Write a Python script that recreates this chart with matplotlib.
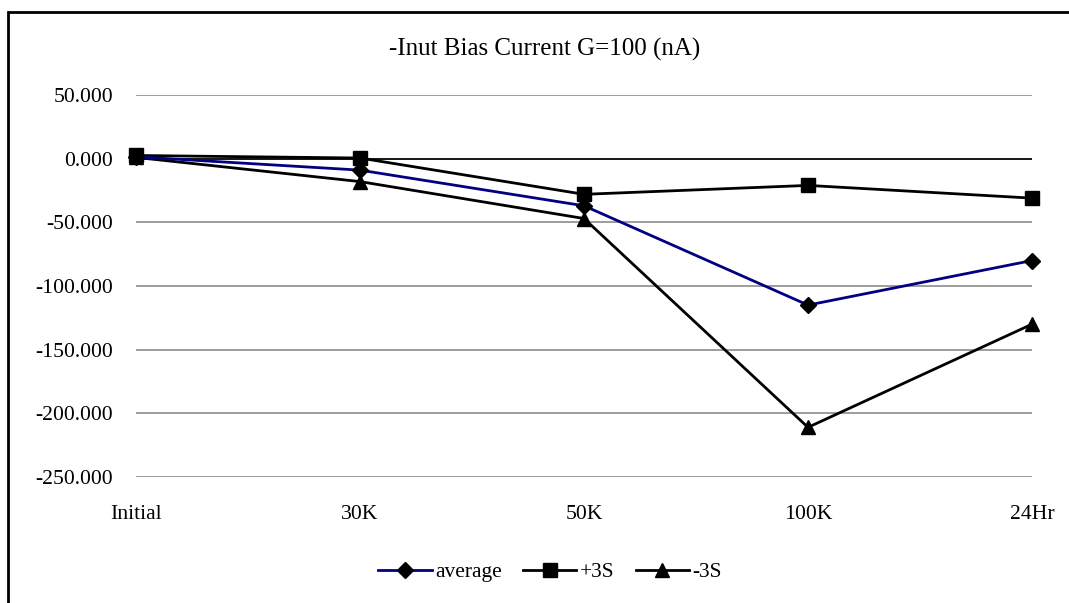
import matplotlib.pyplot as plt
from matplotlib.patches import Rectangle

plt.rcParams['font.family'] = ['Liberation Serif', 'DejaVu Serif']

categories = ['Initial', '30K', '50K', '100K', '24Hr']
average = [1.5, -9.0, -37.0, -115.0, -80.0]
plus_3s = [2.5, 0.5, -28.0, -21.0, -31.0]
minus_3s = [1.0, -18.0, -47.0, -211.0, -130.0]
y_ticks = [50, 0, -50, -100, -150, -200, -250]

fig = plt.figure(figsize=(10.69, 6.03), dpi=100)
ax = fig.add_axes([136 / 1069, 1 - 477 / 603, (1032 - 136) / 1069, (477 - 95) / 603])

x = range(len(categories))
ax.plot(x, average, color='#000080', lw=2, marker='D', ms=8,
        mfc='black', mec='black', label='average', clip_on=False, zorder=4)
ax.plot(x, plus_3s, color='black', lw=2, marker='s', ms=10,
        label='+3S', clip_on=False, zorder=3)
ax.plot(x, minus_3s, color='black', lw=2, marker='^', ms=10,
        label='-3S', clip_on=False, zorder=3)

ax.set_xlim(0, len(categories) - 1)
ax.set_ylim(-250, 50)
ax.set_yticks(y_ticks)
ax.set_yticklabels([f'{v:.3f}' for v in y_ticks])
ax.set_xticks(list(x))
ax.set_xticklabels(categories)
ax.tick_params(length=0, labelsize=15.6)
ax.tick_params(axis='y', pad=16.5)
ax.tick_params(axis='x', pad=20)
ax.grid(axis='y', color='#8c8c8c', lw=1.2)
ax.axhline(0, color='black', lw=1.2, zorder=2)
for s in ax.spines.values():
    s.set_visible(False)
ax.set_axisbelow(True)

fig.text(545 / 1069, 1 - 49 / 603, '-Inut Bias Current G=100 (nA)',
         ha='center', va='center', fontsize=18)

fig.legend(loc='center', bbox_to_anchor=(550 / 1069, 1 - 572 / 603), ncol=3,
           frameon=False, fontsize=15.4, handlelength=2.5, columnspacing=1.0,
           handletextpad=0.15)

fig.add_artist(Rectangle((8 / 1069, -0.1), 1.2, 1 - 12 / 603 + 0.1,
                         transform=fig.transFigure, fill=False,
                         edgecolor='black', lw=2))

fig.savefig('out.png', dpi=100)
